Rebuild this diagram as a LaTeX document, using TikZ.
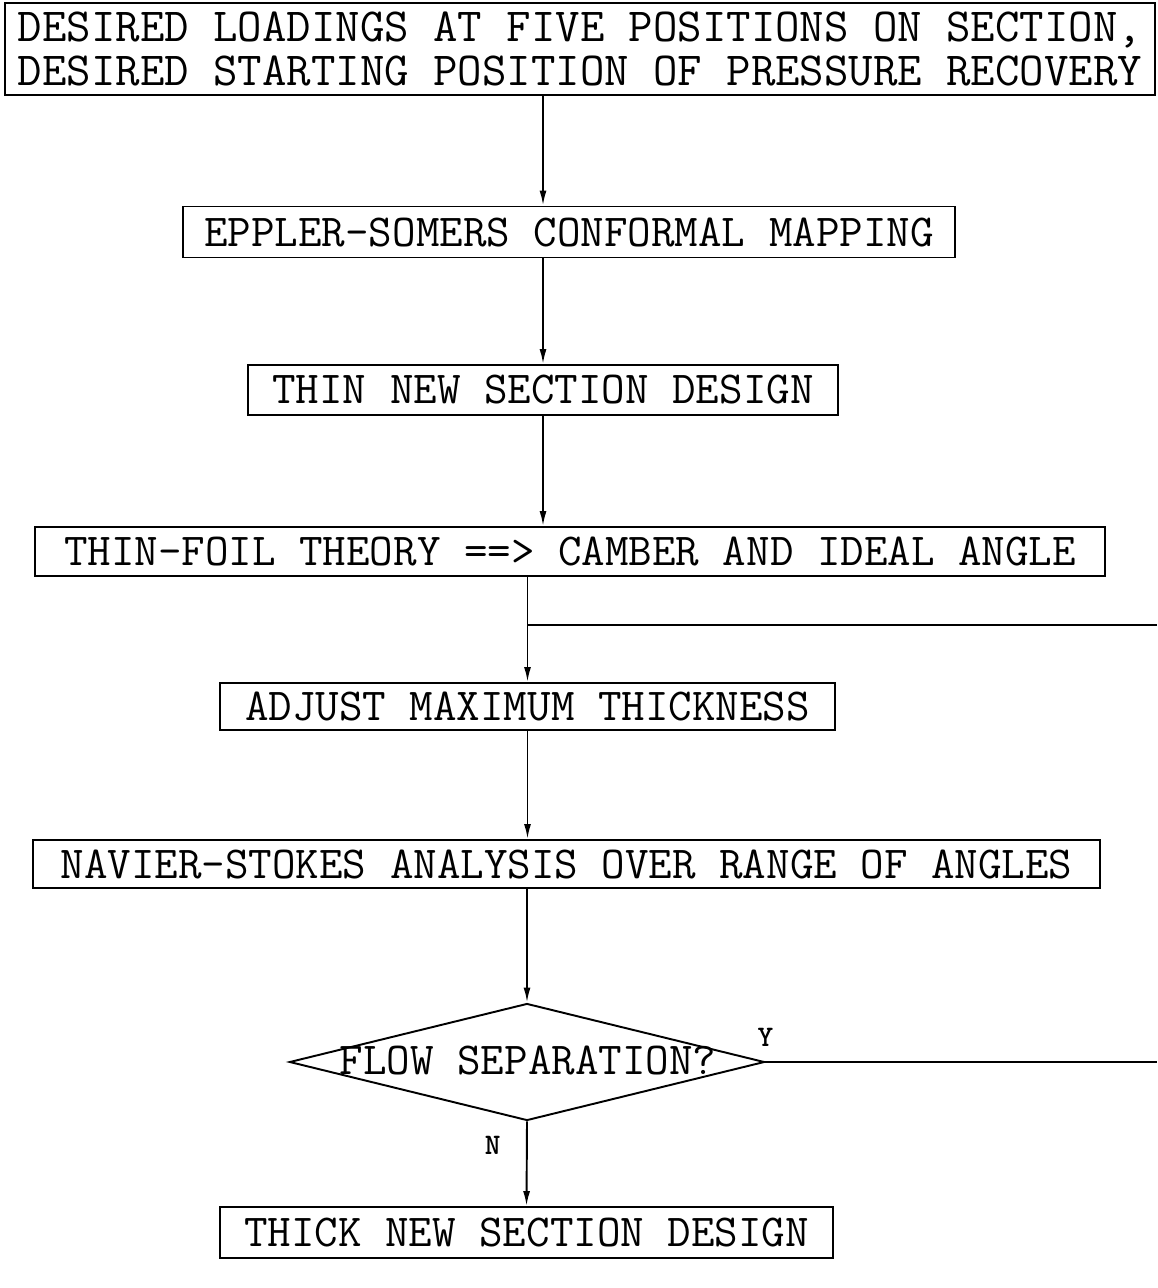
\documentclass[tikz,border=0pt]{standalone}
\usepackage{tikz}
\usetikzlibrary{arrows.meta,positioning,shapes.geometric}

\begin{document}
\begin{tikzpicture}[
	box/.style={draw, line width=1.1pt, inner sep=0pt, align=center,
		font=\fontsize{26}{24}\selectfont\ttfamily},
	arr/.style={line width=1.1pt, -{Latex[length=0.3cm,width=0.14cm]}},
	lin/.style={line width=1.1pt},
	lbl/.style={font=\fontsize{17}{17}\selectfont\ttfamily\bfseries, inner sep=0pt}
	]
\useasboundingbox (0,0) rectangle (23.14,-25.76);
\node[box, minimum width=23.0cm, minimum height=1.84cm, font=\fontsize{27}{25}\selectfont\ttfamily] (start) at (11.6, -0.98)
	{DESIRED LOADINGS AT FIVE POSITIONS ON SECTION,\\DESIRED STARTING POSITION OF PRESSURE RECOVERY}; % input
\node[box, minimum width=15.44cm, minimum height=1.02cm] (mapping) at (11.38, -4.64)
	{EPPLER-SOMERS CONFORMAL MAPPING}; % mapping
\node[box, minimum width=11.8cm, minimum height=1.0cm] (thin) at (10.86, -7.8)
	{THIN NEW SECTION DESIGN}; % thin
\node[box, minimum width=21.4cm, minimum height=0.98cm] (thinfoil) at (11.4, -11.03)
	{THIN-FOIL THEORY ==> CAMBER AND IDEAL ANGLE}; % camber
\node[box, minimum width=12.3cm, minimum height=0.94cm] (adjust) at (10.55, -14.13)
	{ADJUST MAXIMUM THICKNESS}; % thickness
\node[box, minimum width=21.34cm, minimum height=0.96cm] (navier) at (11.33, -17.28)
	{NAVIER-STOKES ANALYSIS OVER RANGE OF ANGLES}; % analysis
\node[draw, diamond, line width=1.1pt, inner sep=0pt, minimum width=9.5cm, minimum height=2.34cm] (sep) at (10.54, -21.24) {}; % decision
\node[font=\fontsize{26}{24}\selectfont\ttfamily, inner sep=0pt] (septext) at (10.56, -21.2) {FLOW SEPARATION?}; % decision
\node[box, minimum width=12.26cm, minimum height=1.02cm] (thick) at (10.53, -24.65)
	{THICK NEW SECTION DESIGN}; % thick

\node[lbl, above=0.3cm of sep.east] (yes) {Y}; % yes
\node[lbl, below left=0.28cm and 0.52cm of sep.south] (no) {N}; % no

\coordinate (join) at (adjust.north |- 0,-12.5); % loop
\coordinate (edgetop) at (23.14, -12.5); % loop
\coordinate (edgebot) at (23.14, -21.24); % loop

\draw[arr] (start.south -| thin.north) -- (mapping.north -| thin.north); % 1
\draw[arr] (mapping.south -| thin.north) -- (thin.north); % 2
\draw[arr] (thin.south) -- (thinfoil.north -| thin.south); % 3
\draw[arr] (thinfoil.south -| adjust.north) -- (adjust.north); % 4
\draw[arr] (adjust.south) -- (navier.north -| adjust.south); % 5
\draw[arr] (navier.south -| sep.north) -- (sep.north); % 6
\draw[arr] (sep.south) -- (thick.north); % 7
\draw[lin] (sep.east) -- (edgebot); % Y
\draw[lin] (edgetop) -- (join); % back

\end{tikzpicture}
\end{document}
